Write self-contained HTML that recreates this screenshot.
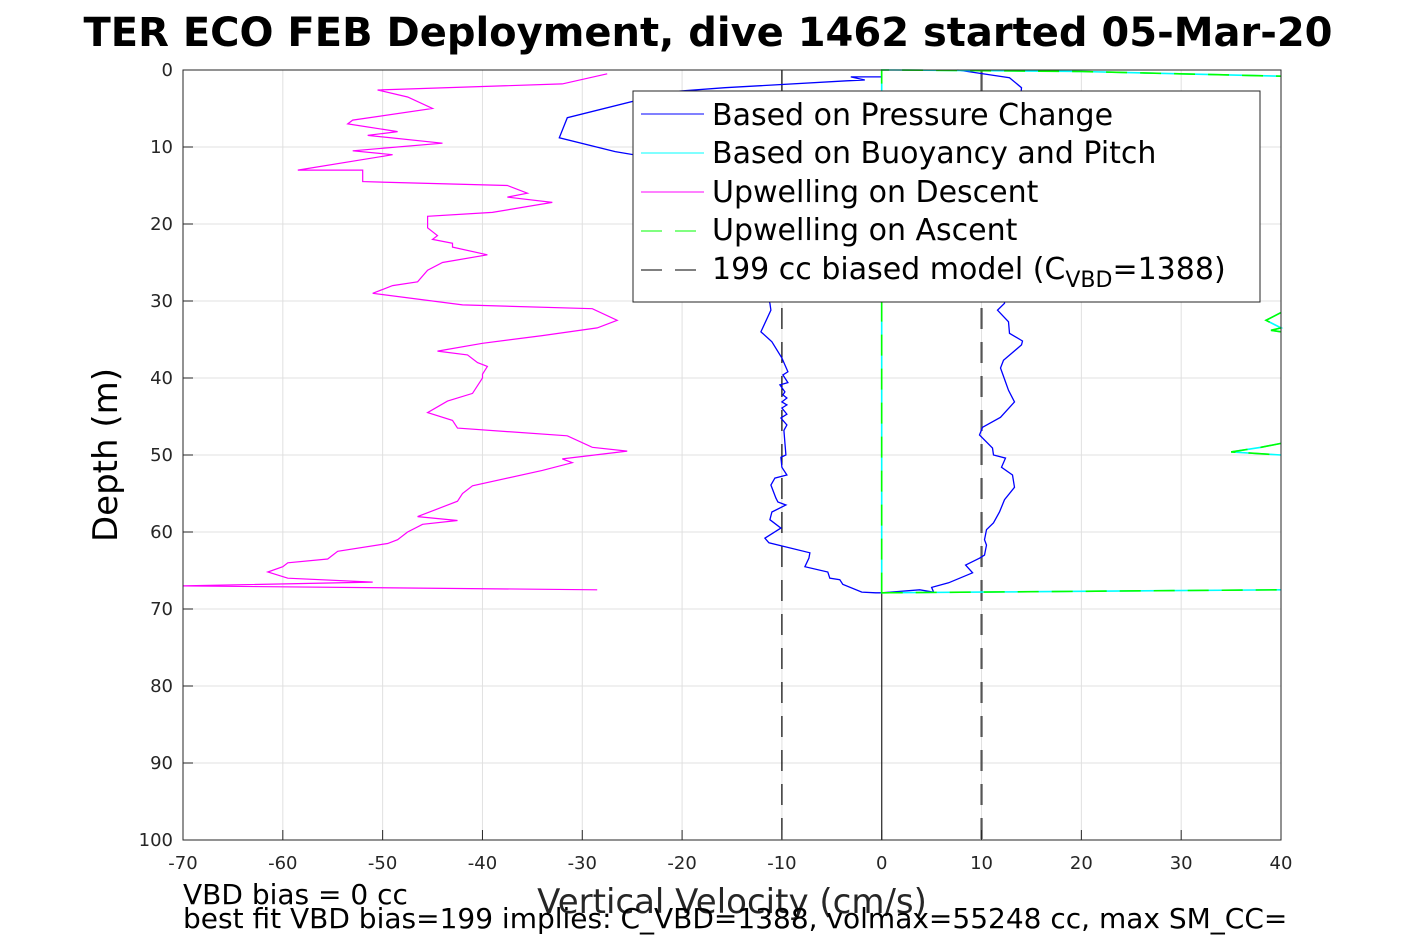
<!DOCTYPE html>
<html><head><meta charset="utf-8"><style>
html,body{margin:0;padding:0;background:#fff;}
svg{display:block;font-family:"DejaVu Sans","Liberation Sans",sans-serif;}
</style></head><body>
<svg id="chart" width="1417" height="945" viewBox="0 0 1417 945">
<text x="708" y="46" text-anchor="middle" font-size="40" font-weight="bold">TER ECO FEB Deployment, dive 1462 started 05-Mar-20</text>
<g id="grid"></g>
<g id="series"></g>
<rect x="183" y="70" width="1098" height="770" fill="none" stroke="#262626" stroke-width="1"/>
<g id="ticks"></g>
<text transform="translate(117,455) rotate(-90)" text-anchor="middle" font-size="34">Depth (m)</text>
<text x="732" y="913" text-anchor="middle" font-size="34" fill="#262626">Vertical Velocity (cm/s)</text>
<text x="183" y="904" font-size="28">VBD bias = 0 cc</text>
<text x="183" y="928" font-size="28">best fit VBD bias=199 implies: C_VBD=1388, volmax=55248 cc, max SM_CC=</text>
<g>
<rect x="633" y="91" width="627" height="211" fill="#fff" stroke="#262626" stroke-width="1"/>
<line x1="641" y1="114" x2="704" y2="114" stroke="#0000ff"/>
<text x="712" y="125" font-size="30">Based on Pressure Change</text>
<line x1="641" y1="153" x2="704" y2="153" stroke="#00ffff"/>
<text x="712" y="163" font-size="30">Based on Buoyancy and Pitch</text>
<line x1="641" y1="192" x2="704" y2="192" stroke="#ff00ff"/>
<text x="712" y="202" font-size="30">Upwelling on Descent</text>
<line x1="641" y1="231" x2="696" y2="231" stroke="#00ff00" stroke-dasharray="21,13"/>
<text x="712" y="240" font-size="30">Upwelling on Ascent</text>
<line x1="641" y1="270" x2="696" y2="270" stroke="#000" stroke-dasharray="21,13"/>
<text x="712" y="279" font-size="30">199 cc biased model (C<tspan font-size="22" dy="8">VBD</tspan><tspan dy="-8">=1388)</tspan></text>
</g>
</svg>
<script>
const xTicks=[-70,-60,-50,-40,-30,-20,-10,0,10,20,30,40];
const yTicks=[0,10,20,30,40,50,60,70,80,90,100];
const descVel=[0,-3.1,-1.7,-3.5,-15.7,-21,-31.5,-32.3,-26.7,-24,-18,-13,-11.2,-11.1,-12.1,-11.0,-10.0,-9.4,-9.9,-9.4,-10.2,-9.7,-9.9,-9.5,-10.0,-9.5,-10.0,-9.5,-10.1,-9.5,-9.8,-9.6,-10.1,-10.0,-9.5,-10.7,-11.1,-10.6,-10.4,-9.6,-11.0,-11.2,-10.1,-11.7,-11.3,-7.2,-7.3,-7.7,-5.4,-5.2,-4.2,-3.9,-2.0,-0.6,0];
const descDepth=[0.9,0.9,1.3,1.4,2.3,2.8,6.2,8.8,10.6,11.2,16,24,30.3,31.2,34.0,35.3,37.4,39.2,39.6,40.6,40.9,41.8,42.2,42.6,43.1,43.5,43.9,44.7,45.2,46.1,46.8,50.0,50.3,51.6,52.6,53.0,53.9,55.6,56.1,56.5,57.4,58.4,59.5,60.8,61.4,62.7,63.4,64.5,65.2,66.0,66.2,66.8,67.8,67.9,67.9];
const ascVel=[7.6,12.8,14,13.5,12.8,12.3,11.6,12.7,12.8,14.1,14.0,12.2,11.9,12.4,12.7,13.3,11.9,10.1,9.8,11.1,11.2,12.4,12.0,13.1,13.3,12.3,11.8,11.2,10.5,10.3,10.5,10.3,9.8,8.4,9.1,6.7,5.0,5.2,3.8,0];
const ascDepth=[0,1,2.3,10,20,30.3,31.2,32.7,34.2,35.2,35.7,37.7,38.7,40.5,41.6,43.1,45.1,46.4,47.4,49.1,50.0,50.4,51.6,52.6,54.2,55.8,57.4,58.8,59.7,61.0,61.7,63.0,63.4,64.3,65.3,66.6,67.2,67.8,67.5,67.9];
const upDescVel=[-27.5,-32,-50.5,-47.5,-45,-53,-53.5,-48.5,-51.5,-44,-53,-49,-58.5,-52,-52,-37.5,-35.5,-37.5,-33,-39,-45.5,-45.5,-45,-44.5,-45,-43,-43,-39.5,-44,-45.5,-46.5,-49,-51,-42,-29,-26.5,-28.5,-34,-40,-44.5,-41.5,-40.5,-39.5,-40,-40,-41,-43.5,-45.5,-43,-42.5,-31.5,-29,-25.5,-32,-31,-34,-41,-42,-42.5,-44.5,-46.5,-42.5,-46,-47.5,-48.5,-49.5,-54.5,-55.5,-59.5,-60,-61.5,-59.5,-51,-70,-28.5];
const upDescDepth=[0.5,1.8,2.6,3.5,5,6.5,7,8,8.5,9.5,10.5,11,13,13,14.5,15,16,16.5,17.2,18.5,19,20.5,21,21.5,22,22.5,23,24,25,26,27.5,28,29,30.5,31,32.5,33.5,34.5,35.5,36.5,37,38,38.5,39.5,40,42,43,44.5,45.5,46.5,47.5,49,49.5,50.5,51,52,54,55,56,57,58,58.5,59,60,61,61.5,62.5,63.5,64,64.5,65.2,66,66.5,67,67.5];
const buoyVel=[0,0,1.3,20,40,null,40,38.5,40,39,40,null,40,38,35,40,null,0,40];
const buoyDepth=[68,0,0,0.2,0.8,null,31.5,32.5,33.5,33.8,34,null,48.5,49,49.6,50,null,67.9,67.5];
const modelVel=[-10,10];
const X0=183,X1=1281,Y0=70,Y1=840,XMIN=-70,XMAX=40,DMAX=100;
function sx(v){return X0+(v-XMIN)/(XMAX-XMIN)*(X1-X0);}
function sy(d){return Y0+d/DMAX*(Y1-Y0);}
const NS="http://www.w3.org/2000/svg";
function mk(tag,attrs,parent){const e=document.createElementNS(NS,tag);for(const k in attrs)e.setAttribute(k,attrs[k]);parent.appendChild(e);return e;}
const grid=document.getElementById('grid'),ticks=document.getElementById('ticks'),ser=document.getElementById('series');
xTicks.forEach(t=>{
 const g=mk('line',{x1:sx(t),x2:sx(t),y1:Y0,y2:Y1,stroke:'#e0e0e0','stroke-width':1},grid);
 
 
 const tk=mk('line',{x1:sx(t),x2:sx(t),y1:Y1,y2:Y1-10,stroke:'#262626'},ticks);
 
 
 const l=mk('text',{x:sx(t),y:Y1+29,'text-anchor':'middle','font-size':18,fill:'#262626'},ticks);
 l.textContent=t;
 
 
});
yTicks.forEach(t=>{
 const g=mk('line',{x1:X0,x2:X1,y1:sy(t),y2:sy(t),stroke:'#e0e0e0','stroke-width':1},grid);
 
 
 const tk=mk('line',{x1:X0,x2:X0+10,y1:sy(t),y2:sy(t),stroke:'#262626'},ticks);
 
 
 const l=mk('text',{x:X0-10,y:sy(t)+6,'text-anchor':'end','font-size':18,fill:'#262626'},ticks);
 l.textContent=t;
 
 
});
function pathFrom(vs,ds){let d='',pen=false;for(let i=0;i<vs.length;i++){if(vs[i]===null){pen=false;continue;}d+=(pen?'L':'M')+sx(vs[i]).toFixed(1)+' '+sy(ds[i]).toFixed(1);pen=true;}return d;}
// zero line
const z=mk('line',{x1:sx(0),x2:sx(0),y1:Y0,y2:Y1,stroke:'#262626','stroke-width':1.2},ser);


modelVel.forEach((v,i)=>{
 const m=mk('line',{x1:sx(v),x2:sx(v),y1:Y0,y2:Y1,stroke:i?'#555':'#000','stroke-width':i?2.2:1.2,'stroke-dasharray':'21,13'},ser);
 
 
});
const pm=mk('path',{d:pathFrom(upDescVel,upDescDepth),fill:'none',stroke:'#ff00ff','stroke-width':1.2},ser);


const pd=mk('path',{d:pathFrom(descVel,descDepth),fill:'none',stroke:'#0000ff','stroke-width':1.3},ser);


const pa=mk('path',{d:pathFrom(ascVel,ascDepth),fill:'none',stroke:'#0000ff','stroke-width':1.3},ser);


const pb=mk('path',{d:pathFrom(buoyVel,buoyDepth),fill:'none',stroke:'#00ffff','stroke-width':1.6},ser);


const pg=mk('path',{d:pathFrom(buoyVel,buoyDepth),fill:'none',stroke:'#00ff00','stroke-width':1.6,'stroke-dasharray':'21,13'},ser);


</script>
</body></html>
